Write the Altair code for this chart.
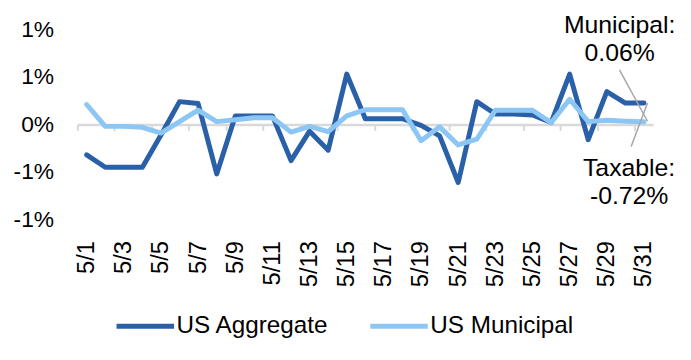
import altair as alt
import pandas as pd

dates = ["5/1", "5/2", "5/3", "5/4", "5/5", "5/6", "5/7", "5/8", "5/9", "5/10",
         "5/11", "5/12", "5/13", "5/14", "5/15", "5/16", "5/17", "5/18", "5/19", "5/20",
         "5/21", "5/22", "5/23", "5/24", "5/25", "5/26", "5/27", "5/28", "5/29", "5/30", "5/31"]

aggregate = [-0.32, -0.45, -0.45, -0.45, -0.11, 0.24, 0.22, -0.52, 0.09, 0.09,
             0.09, -0.38, -0.07, -0.27, 0.53, 0.06, 0.06, 0.06, -0.01, -0.12,
             -0.61, 0.24, 0.11, 0.11, 0.10, 0.02, 0.53, -0.16, 0.345, 0.225, 0.225]

municipal = [0.21, -0.02, -0.02, -0.03, -0.09, 0.03, 0.15, 0.03, 0.05, 0.07,
             0.07, -0.08, -0.02, -0.075, 0.09, 0.155, 0.155, 0.155, -0.17, -0.025,
             -0.215, -0.155, 0.15, 0.15, 0.15, 0.02, 0.265, 0.03, 0.045, 0.035, 0.028]

series_names = ["US Aggregate", "US Municipal"]
series_colors = ["#2A60A8", "#8CC6F4"]

annot_labels = ["Municipal:\n0.06%", "Taxable:\n-0.72%"]

y_ticks = [-1, -0.5, 0, 0.5, 1]

rows = []
for i, d in enumerate(dates):
    rows.append({"day": i + 1, "date": d, "series": series_names[0], "value": aggregate[i]})
for i, d in enumerate(dates):
    rows.append({"day": i + 1, "date": d, "series": series_names[1], "value": municipal[i]})
df = pd.DataFrame(rows)

FONT = "Liberation Sans"
W, H = 581, 192
n = len(dates)

x_scale = alt.Scale(domain=[0.5, n + 0.5], nice=False, zero=False)
y_scale = alt.Scale(domain=[-1, 1], nice=False, zero=False)

label_expr = "[" + ",".join("'%s'" % d for d in dates) + "][datum.value - 1]"

lines = alt.Chart(df).mark_line(strokeWidth=5, strokeCap="round", strokeJoin="round").encode(
    x=alt.X("day:Q", scale=x_scale,
            axis=alt.Axis(orient="bottom", values=list(range(1, n + 1, 2)), labelExpr=label_expr,
                          labelAngle=-90, ticks=False, domain=False, grid=False, labelFlush=False,
                          labelPadding=21, labelFontSize=24, labelFont=FONT, labelColor="black",
                          labelOverlap=False, title=None)),
    y=alt.Y("value:Q", scale=y_scale,
            axis=alt.Axis(orient="left", values=y_ticks,
                          labelExpr="(datum.value < 0 ? '-' : '') + round(abs(datum.value)) + '%'",
                          ticks=False, domain=False, grid=False, labelPadding=24,
                          labelFontSize=23, labelFont=FONT, labelColor="black", title=None)),
    color=alt.Color("series:N", scale=alt.Scale(domain=series_names, range=series_colors),
                    legend=alt.Legend(orient="none", legendX=37, legendY=268, direction="horizontal",
                                      title=None, symbolType="stroke", symbolSize=3364,
                                      symbolStrokeWidth=5, labelFont=FONT, labelFontSize=24.5,
                                      labelColor="black", labelOffset=0, columnPadding=31,
                                      labelLimit=0, padding=0)),
    order=alt.Order("day:Q"),
)

leaders = pd.DataFrame({
    "x": [29.68, 30.31], "x2": [31.19, 31.19],
    "y": [0.573, -0.232], "y2": [municipal[-1] + 0.006, aggregate[-1]],
})

leader_layer = alt.Chart(leaders).mark_rule(color="#A6A6A6", strokeWidth=1.5).encode(
    x=alt.X("x:Q", scale=x_scale,
            axis=alt.Axis(orient="bottom", offset=-H / 2, values=[v - 0.5 for v in range(1, n + 1, 2)],
                          labels=False, domain=True, domainColor="#D9D9D9", domainWidth=2.5,
                          ticks=True, tickColor="#D9D9D9", tickWidth=2, tickSize=6, grid=False,
                          title=None, zindex=0)),
    x2="x2:Q",
    y=alt.Y("y:Q", scale=y_scale, axis=None),
    y2="y2:Q",
)

ann = pd.DataFrame({"label": annot_labels, "x": [29.69, 30.2], "y": [0.963, -0.54]})

ann_layer = alt.Chart(ann).mark_text(font=FONT, fontSize=25, align="center", baseline="alphabetic",
                                     lineBreak="\n", lineHeight=28, color="black").encode(
    x=alt.X("x:Q", scale=x_scale, axis=None),
    y=alt.Y("y:Q", scale=y_scale, axis=None),
    text="label:N",
)

chart = alt.layer(lines, leader_layer, ann_layer).resolve_axis(
    x="independent", y="independent"
).properties(
    width=W, height=H,
    autosize=alt.AutoSizeParams(type="none"),
    padding={"left": 70, "top": 20, "right": 30, "bottom": 130},
    background="white",
).configure_view(stroke=None)

chart.save("out.html", embed_options={"renderer": "svg", "actions": False})
